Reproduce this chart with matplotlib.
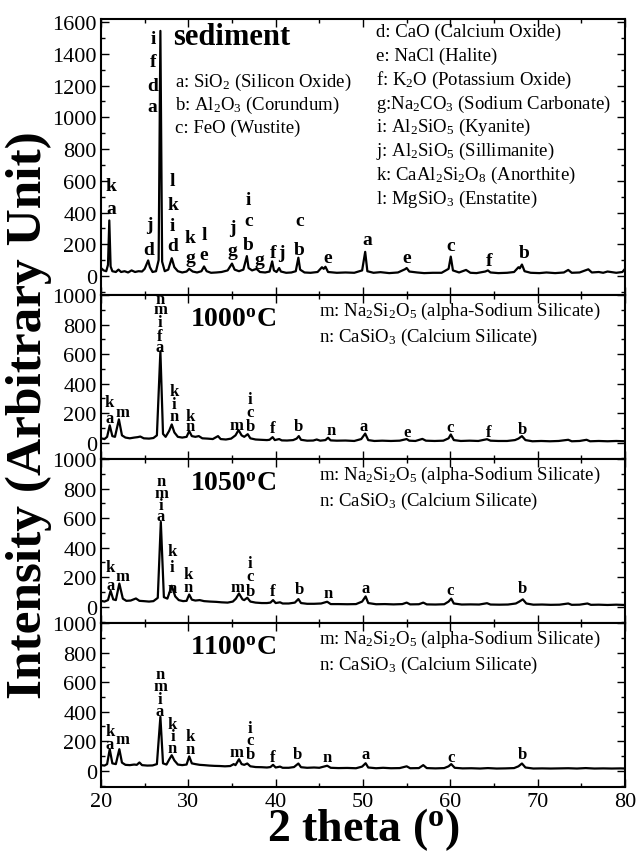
import matplotlib
matplotlib.use("Agg")
import matplotlib.pyplot as plt
from matplotlib.ticker import MultipleLocator

plt.rcParams['font.family'] = ['Liberation Serif', 'DejaVu Serif']
plt.rcParams['mathtext.fontset'] = 'custom'
plt.rcParams['mathtext.rm'] = 'Liberation Serif'
plt.rcParams['mathtext.bf'] = 'Liberation Serif:bold'
plt.rcParams['mathtext.default'] = 'regular'

# ---------------- data ----------------
sed_x = [20.0, 20.3, 20.6, 20.8, 20.95, 21.1, 21.3, 21.7, 22.0, 22.3, 22.7, 23.1, 23.5, 23.9, 24.3, 24.7,
         25.0, 25.4, 25.6, 25.9, 26.3, 26.6, 26.8, 27.0, 27.3, 27.7, 28.1, 28.4, 28.8, 29.3, 29.8, 30.1,
         30.5, 31.0, 31.5, 31.8, 32.1, 32.6, 33.2, 33.8, 34.5, 35.0, 35.3, 35.8, 36.3, 36.7, 36.9, 37.3,
         37.8, 38.2, 38.8, 39.3, 39.6, 39.8, 40.1, 40.4, 40.6, 41.2, 41.8, 42.3, 42.6, 42.8, 43.3, 44.0,
         44.8, 45.3, 45.5, 45.7, 46.0, 47.0, 48.0, 49.0, 49.9, 50.25, 50.5, 51.2, 52.0, 53.0, 54.0, 54.8,
         55.0, 55.3, 56.2, 57.0, 58.0, 59.0, 59.8, 60.05, 60.3, 61.0, 61.8, 62.3, 63.0, 64.0, 64.3, 64.6,
         65.5, 66.5, 67.3, 67.8, 67.95, 68.2, 68.5, 69.2, 70.2, 71.0, 72.0, 73.0, 73.5, 73.9, 74.8, 75.8,
         76.2, 77.0, 77.5, 78.0, 79.0, 79.7, 80.0]
sed_y = [50, 35, 30, 70, 350, 60, 30, 25, 40, 25, 30, 22, 35, 25, 30, 28,
         45, 98, 55, 25, 30, 100, 1545, 90, 30, 40, 112, 55, 30, 22, 28, 45,
         28, 22, 30, 60, 30, 20, 22, 25, 35, 78, 40, 30, 40, 125, 50, 35,
         45, 25, 22, 28, 92, 35, 25, 50, 28, 20, 22, 30, 115, 40, 22, 20,
         25, 55, 45, 58, 25, 20, 22, 20, 35, 152, 30, 20, 24, 18, 22, 42,
         50, 28, 22, 18, 20, 20, 45, 122, 35, 22, 38, 20, 18, 28, 35, 22,
         18, 20, 25, 55, 48, 72, 30, 20, 18, 22, 18, 22, 38, 20, 22, 42,
         22, 25, 20, 28, 20, 25, 45]

t1000_x = [20.0, 20.4, 20.7, 21.0, 21.3, 21.6, 22.05, 22.4, 22.8, 23.3, 23.8, 24.2, 24.5, 24.9, 25.5, 26.0,
           26.4, 26.8, 27.1, 27.4, 27.8, 28.1, 28.4, 28.8, 29.3, 29.8, 30.1, 30.4, 30.8, 31.2, 31.6, 32.2,
           32.8, 33.4, 33.7, 34.3, 34.9, 35.4, 35.75, 36.1, 36.4, 36.8, 37.1, 37.7, 38.3, 39.0, 39.3, 39.65,
           39.9, 40.4, 40.7, 41.3, 42.0, 42.4, 42.65, 42.9, 43.6, 44.3, 44.7, 45.1, 45.7, 46.0, 46.3, 47.0,
           48.0, 49.0, 49.8, 50.25, 50.6, 51.3, 52.2, 53.2, 54.2, 55.0, 55.3, 56.0, 56.8, 57.2, 58.2, 59.2,
           59.8, 60.05, 60.4, 61.2, 62.2, 63.2, 64.2, 64.6, 65.5, 66.5, 67.4, 67.8, 68.2, 68.6, 69.4, 70.4,
           71.4, 72.4, 73.5, 73.9, 74.8, 75.6, 76.0, 77.0, 78.0, 79.0, 80.0]
t1000_y = [30, 25, 40, 118, 45, 40, 158, 50, 35, 30, 35, 38, 42, 30, 28, 32,
           50, 620, 60, 40, 80, 124, 70, 40, 35, 40, 79, 45, 40, 45, 30, 28,
           25, 45, 25, 22, 28, 50, 86, 50, 40, 58, 30, 22, 20, 18, 20, 38,
           18, 25, 16, 15, 18, 28, 45, 20, 14, 15, 22, 14, 18, 34, 16, 14,
           15, 12, 25, 62, 18, 12, 14, 12, 14, 25, 14, 12, 26, 14, 12, 14,
           30, 56, 18, 12, 14, 12, 24, 14, 12, 12, 18, 28, 45, 18, 10, 12,
           10, 12, 20, 10, 12, 20, 10, 12, 10, 12, 10]

t1050_x = [20.0, 20.4, 20.8, 21.1, 21.4, 21.7, 22.1, 22.5, 22.9, 23.4, 24.0, 24.4, 24.9, 25.5, 26.0, 26.5,
           26.85, 27.2, 27.6, 28.1, 28.5, 28.9, 29.4, 29.8, 30.1, 30.4, 30.8, 31.3, 31.8, 32.5, 33.2, 33.8,
           34.5, 35.1, 35.45, 35.8, 36.2, 36.4, 36.75, 37.1, 37.7, 38.4, 39.0, 39.4, 39.7, 40.0, 40.5, 40.8,
           41.5, 42.2, 42.6, 42.9, 43.6, 44.4, 45.2, 45.9, 46.3, 47.2, 48.2, 49.2, 49.9, 50.3, 50.6, 51.5,
           52.5, 53.5, 54.5, 55.0, 55.4, 56.4, 56.9, 57.3, 58.3, 59.3, 59.8, 60.1, 60.4, 61.3, 62.3, 63.3,
           64.2, 64.6, 65.6, 66.6, 67.5, 67.9, 68.3, 68.7, 69.5, 70.5, 71.5, 72.5, 73.5, 73.9, 74.8, 75.7,
           76.1, 77.0, 78.0, 79.0, 80.0]
t1050_y = [40, 35, 45, 108, 50, 45, 157, 55, 40, 42, 56, 40, 38, 35, 38, 60,
           574, 65, 55, 142, 70, 45, 38, 40, 83, 48, 42, 45, 38, 35, 33, 30,
           28, 35, 55, 90, 50, 45, 61, 35, 28, 25, 25, 28, 45, 25, 30, 22,
           22, 28, 52, 25, 20, 20, 22, 34, 18, 18, 17, 18, 35, 70, 25, 17,
           18, 16, 18, 28, 16, 17, 28, 16, 15, 17, 35, 55, 22, 15, 16, 15,
           24, 15, 14, 15, 22, 35, 50, 22, 14, 15, 13, 14, 22, 13, 14, 22,
           13, 14, 12, 14, 12]

t1100_x = [20.0, 20.4, 20.7, 21.0, 21.3, 21.7, 22.1, 22.4, 22.8, 23.3, 23.8, 24.1, 24.4, 24.7, 25.3, 25.9,
           26.4, 26.8, 27.1, 27.5, 27.8, 28.1, 28.4, 28.8, 29.3, 29.8, 30.1, 30.4, 30.8, 31.3, 31.8, 32.4,
           33.0, 33.6, 34.2, 34.8, 35.2, 35.4, 35.8, 36.1, 36.4, 36.75, 37.1, 37.7, 38.4, 39.0, 39.4, 39.7,
           40.0, 40.5, 40.8, 41.5, 42.1, 42.6, 42.9, 43.6, 44.4, 45.0, 45.9, 46.3, 47.2, 48.2, 49.2, 49.9,
           50.3, 50.6, 51.5, 52.3, 53.2, 54.2, 55.0, 55.4, 56.4, 56.9, 57.3, 58.3, 59.3, 59.8, 60.1, 60.5,
           61.4, 62.4, 63.4, 64.3, 65.3, 66.3, 67.3, 67.8, 68.2, 68.6, 69.5, 70.5, 71.5, 72.5, 73.5, 74.5,
           75.5, 76.5, 77.5, 78.5, 79.5, 80.0]
t1100_y = [38, 35, 45, 146, 50, 45, 146, 55, 40, 38, 42, 40, 56, 38, 35, 36,
           45, 365, 50, 42, 75, 105, 70, 42, 38, 42, 97, 50, 45, 40, 38, 35,
           33, 32, 30, 32, 45, 38, 78, 45, 40, 49, 30, 25, 24, 22, 25, 40,
           22, 28, 20, 20, 25, 49, 24, 20, 22, 20, 34, 20, 18, 19, 17, 28,
           51, 22, 17, 20, 17, 18, 30, 17, 18, 38, 18, 16, 18, 30, 45, 20,
           16, 17, 15, 18, 15, 16, 18, 30, 49, 22, 15, 16, 15, 16, 17, 15,
           18, 15, 16, 15, 16, 15]

# peak labels: (2theta, intensity position, letter)
sed_labels = [(21.15, 423, 'a'), (21.15, 568, 'k'),
              (25.9, 1071, 'a'), (25.9, 1203, 'd'), (25.95, 1354, 'f'), (26.0, 1499, 'i'),
              (25.5, 165, 'd'), (25.5, 323, 'j'),
              (28.2, 191, 'd'), (28.2, 316, 'i'), (28.2, 449, 'k'), (28.2, 600, 'l'),
              (30.2, 115, 'g'), (30.2, 241, 'k'),
              (31.8, 134, 'e'), (31.8, 260, 'l'),
              (35.1, 159, 'g'), (35.1, 304, 'j'),
              (36.9, 197, 'b'), (36.9, 348, 'c'), (36.9, 480, 'i'),
              (38.1, 103, 'g'), (39.7, 147, 'f'), (40.6, 147, 'j'),
              (42.7, 165, 'b'), (42.7, 348, 'c'),
              (46.0, 115, 'e'), (50.5, 228, 'a'), (55.0, 115, 'e'),
              (60.0, 191, 'c'), (64.4, 96, 'f'), (68.4, 147, 'b')]
t1000_labels = [(20.95, 165, 'a'), (20.95, 274, 'k'), (22.4, 206, 'm'),
                (26.75, 648, 'a'), (26.75, 725, 'f'), (26.75, 818, 'i'), (26.75, 902, 'm'), (26.75, 975, 'n'),
                (28.4, 179, 'n'), (28.4, 261, 'i'), (28.4, 349, 'k'),
                (30.2, 113, 'n'), (30.2, 181, 'k'),
                (35.5, 120, 'm'), (37.1, 113, 'b'), (37.1, 206, 'c'), (37.1, 295, 'i'),
                (39.7, 97, 'f'), (42.6, 113, 'b'), (46.3, 86, 'n'), (50.1, 113, 'a'),
                (55.0, 70, 'e'), (60.0, 106, 'c'), (64.4, 72, 'f'), (68.3, 90, 'b')]
t1050_labels = [(21.1, 146, 'a'), (21.1, 266, 'k'), (22.4, 205, 'm'),
                (26.87, 617, 'a'), (26.87, 686, 'i'), (26.87, 772, 'm'), (26.87, 849, 'n'),
                (28.1, 124, 'n'), (28.1, 266, 'i'), (28.1, 376, 'k'),
                (30.0, 137, 'n'), (30.0, 225, 'k'),
                (35.65, 137, 'm'), (37.1, 105, 'b'), (37.1, 207, 'c'), (37.1, 293, 'i'),
                (39.7, 105, 'f'), (42.7, 117, 'b'), (46.0, 95, 'n'), (50.3, 125, 'a'),
                (60.0, 115, 'c'), (68.3, 125, 'b')]
t1100_labels = [(21.0, 178, 'a'), (21.0, 272, 'k'), (22.5, 214, 'm'),
                (26.75, 407, 'a'), (26.75, 484, 'i'), (26.75, 576, 'm'), (26.75, 653, 'n'),
                (28.2, 153, 'n'), (28.2, 232, 'i'), (28.2, 315, 'k'),
                (30.2, 146, 'n'), (30.2, 232, 'k'),
                (35.5, 124, 'm'), (37.1, 112, 'b'), (37.1, 205, 'c'), (37.1, 288, 'i'),
                (39.7, 90, 'f'), (42.5, 110, 'b'), (45.85, 90, 'n'), (50.35, 112, 'a'),
                (60.05, 90, 'c'), (68.3, 112, 'b')]

sed_legend_left = ["a: SiO$_2$ (Silicon Oxide)", "b: Al$_2$O$_3$ (Corundum)", "c: FeO (Wustite)"]
sed_legend_right = ["d: CaO (Calcium Oxide)", "e: NaCl (Halite)", "f: K$_2$O (Potassium Oxide)",
                    "g:Na$_2$CO$_3$ (Sodium Carbonate)", "i: Al$_2$SiO$_5$ (Kyanite)",
                    "j: Al$_2$SiO$_5$ (Sillimanite)", "k: CaAl$_2$Si$_2$O$_8$ (Anorthite)",
                    "l: MgSiO$_3$ (Enstatite)"]
heat_legend = ["m: Na$_2$Si$_2$O$_5$ (alpha-Sodium Silicate)", "n: CaSiO$_3$ (Calcium Silicate)"]

panel_titles = ["sediment", "1000$^o$C", "1050$^o$C", "1100$^o$C"]
xs = [sed_x, t1000_x, t1050_x, t1100_x]
ys = [sed_y, t1000_y, t1050_y, t1100_y]
labels = [sed_labels, t1000_labels, t1050_labels, t1100_labels]

# ---------------- figure ----------------
W, H = 636, 854
fig = plt.figure(figsize=(W / 100, H / 100), dpi=100)
left, right = 101 / W, 625 / W
bounds_px = [(20, 296), (296, 460), (460, 624), (624, 788)]

axes = []
for i, (t, b) in enumerate(bounds_px):
    ax = fig.add_axes([left, 1 - b / H, right - left, (b - t) / H])
    axes.append(ax)
    ax.plot(xs[i], ys[i], color='black', lw=1.6)
    ax.set_xlim(20, 80)
    if i == 0:
        ax.set_ylim(-120, 1620)
        ax.set_yticks(range(0, 1601, 200))
        fs_lab = 14
    else:
        ax.set_ylim(-110, 1000)
        ax.set_yticks(range(0, 1001, 200))
        fs_lab = 12
    ax.yaxis.set_minor_locator(MultipleLocator(100))
    ax.xaxis.set_major_locator(MultipleLocator(10))
    ax.xaxis.set_minor_locator(MultipleLocator(5))
    ax.tick_params(which='both', direction='in', top=True, right=True, labelsize=16, width=1.0)
    ax.tick_params(which='major', length=6)
    ax.tick_params(which='minor', length=3)
    ax.tick_params(axis='y', which='major', pad=3)
    for s in ax.spines.values():
        s.set_linewidth(1.5)
    if i < 3:
        ax.tick_params(labelbottom=False)
    for (lx, ly, letter) in labels[i]:
        ax.text(lx, ly, letter, ha='center', va='center', fontsize=fs_lab, fontweight='bold')

# text blocks
ax0 = axes[0]
ax0.text(0.137, 0.909, "sediment", transform=ax0.transAxes, fontsize=22, fontweight='bold',
         ha='left', va='baseline')
for k, s in enumerate(sed_legend_left):
    ax0.text(0.141, 0.757 - k * 0.0835, s, transform=ax0.transAxes, fontsize=13.5,
             ha='left', va='baseline')
for k, s in enumerate(sed_legend_right):
    ax0.text(0.525, 0.938 - k * 0.0862, s, transform=ax0.transAxes, fontsize=13.5,
             ha='left', va='baseline')

for i in range(1, 4):
    ax = axes[i]
    ax.text(0.170, 0.813, panel_titles[i], transform=ax.transAxes, fontsize=20, fontweight='bold',
            ha='left', va='baseline')
    for k, s in enumerate(heat_legend):
        ax.text(0.416, 0.878 - k * 0.157, s, transform=ax.transAxes, fontsize=13.5,
                ha='left', va='baseline')

fig.text(0.045, 0.514, "Intensity (Arbitrary Unit)", rotation=90, fontsize=37, fontweight='bold',
         ha='center', va='center')
fig.text(0.571, 1 - 841 / H, "2 theta ($^o$)", fontsize=33, fontweight='bold', ha='center',
         va='baseline')

fig.savefig("out.png", dpi=100)
